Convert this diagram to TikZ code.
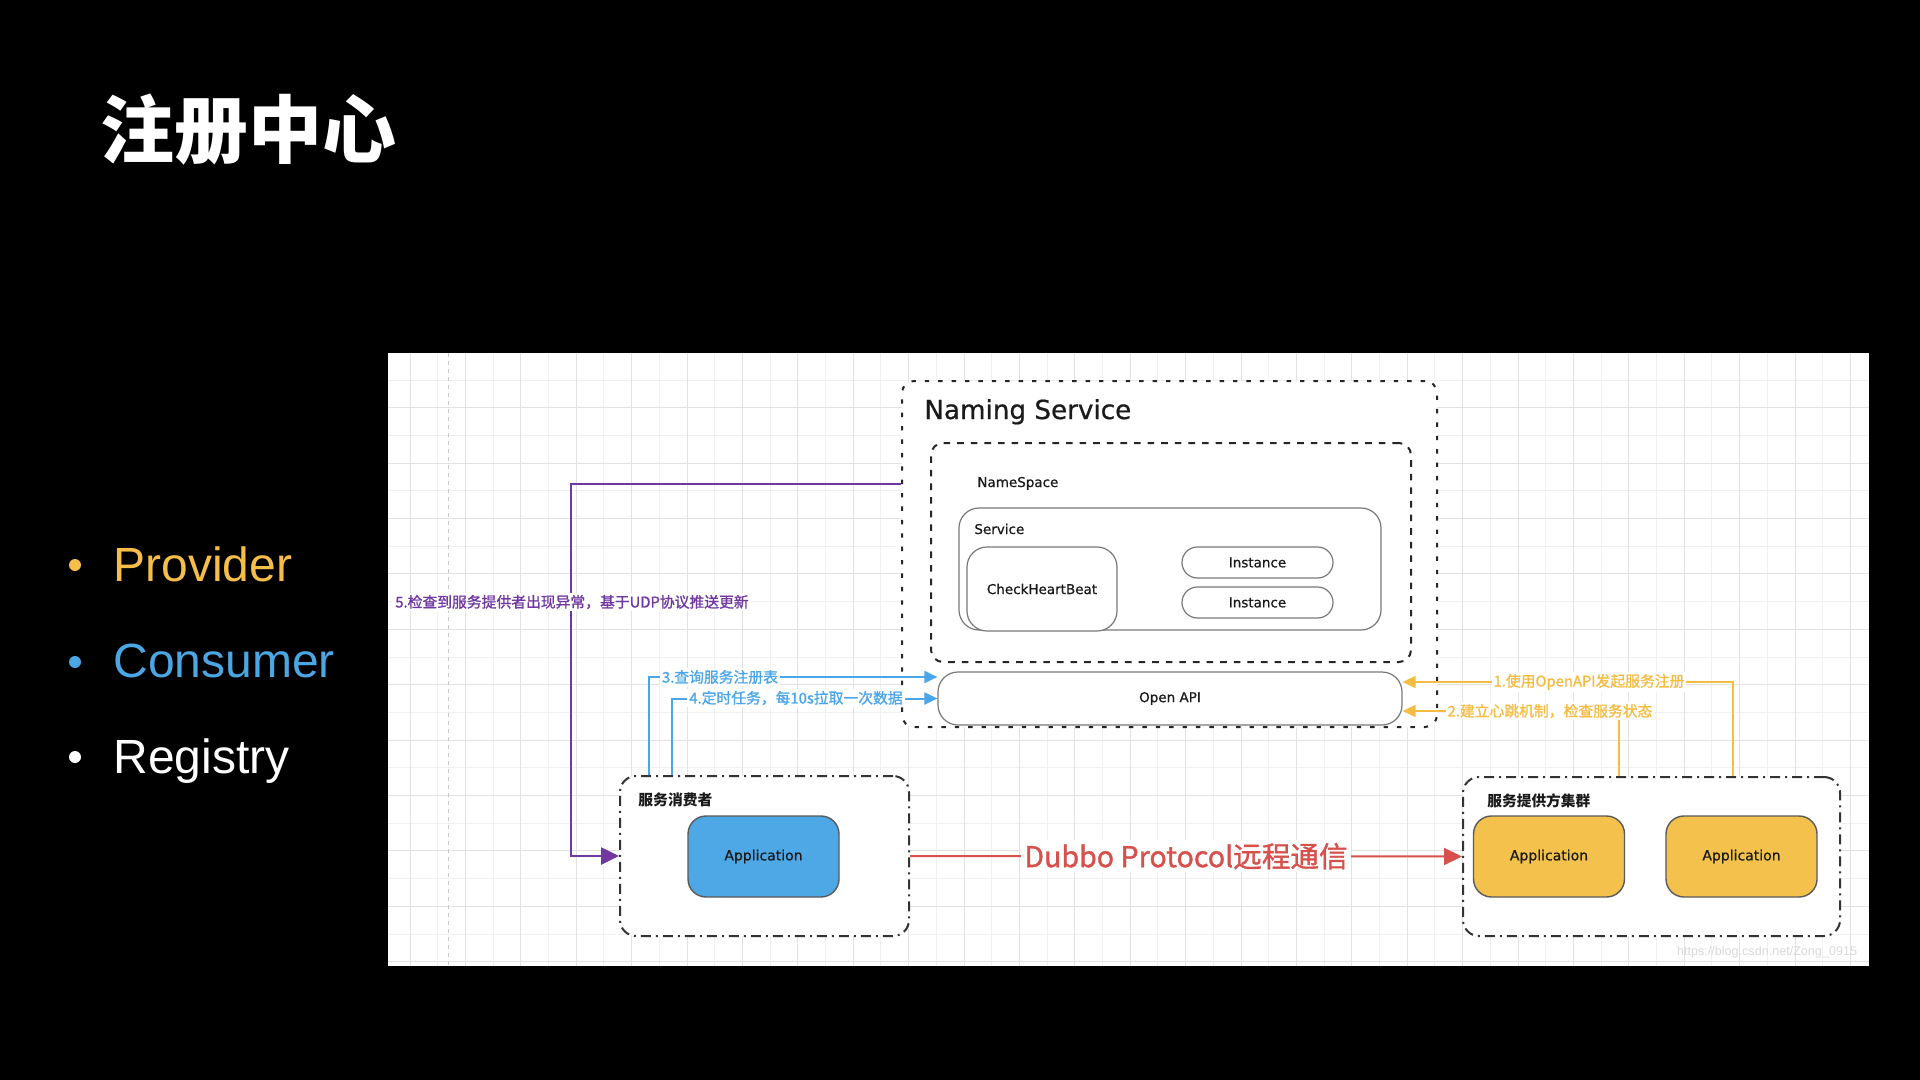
\documentclass[tikz,border=0pt]{standalone}
\usepackage{fontspec}
\setmainfont{DejaVu Sans}
\newfontfamily\cjk{Noto Sans CJK SC}
\newfontfamily\cjkm[FakeBold=1.2]{Noto Sans CJK SC}
\newfontfamily\dvm[FakeBold=0.7]{DejaVu Sans}
\newfontfamily\arialf{Liberation Sans}
\usetikzlibrary{arrows.meta,calc}
\definecolor{provc}{RGB}{244,190,72}
\definecolor{consc}{RGB}{75,166,228}
\definecolor{purp}{RGB}{112,56,160}
\definecolor{bluec}{RGB}{74,166,232}
\definecolor{orc}{RGB}{245,188,66}
\definecolor{redc}{RGB}{214,80,76}
\definecolor{appblue}{RGB}{77,168,229}
\definecolor{appyel}{RGB}{244,193,76}
\definecolor{gridA}{RGB}{226,226,226}
\definecolor{gridB}{RGB}{240,240,240}
\definecolor{boxgray}{RGB}{120,120,120}
\definecolor{appborder}{RGB}{90,90,90}
\definecolor{textdark}{RGB}{26,26,26}
\newcommand{\mylbl}{\dvm\fontsize{6.75}{8}\selectfont}
\newcommand{\myapp}{\dvm\fontsize{7}{8.5}\selectfont}
\newcommand{\mycjk}{\cjkm\fontsize{7.4}{9}\selectfont}
\begin{document}
\begin{tikzpicture}[x=0.5pt,y=-0.5pt,
  grida/.style={draw=gridA, line width=0.5pt},
  gridb/.style={draw=gridB, line width=0.5pt},
  outerbox/.style={draw=black!85, fill=white, line width=1pt, rounded corners=6pt, dash pattern=on 2.2pt off 4.5pt, inner sep=0},
  nsbox/.style={draw=black!85, fill=white, line width=1pt, rounded corners=6pt, dash pattern=on 3.3pt off 3.5pt, inner sep=0},
  softbox/.style={draw=boxgray, fill=white, line width=0.6pt, rounded corners=10pt, inner sep=0, font=\mylbl, text=textdark},
  pillbox/.style={softbox, rounded corners=7.7pt, minimum width=75.5pt, minimum height=15.5pt},
  grpbox/.style={draw=black!80, fill=white, line width=1pt, rounded corners=8pt, dash pattern=on 5pt off 2.5pt on 1pt off 2.5pt, inner sep=0},
  appbox/.style={draw=appborder, line width=0.7pt, rounded corners=9pt, minimum width=75.5pt, minimum height=40.5pt, inner sep=0, font=\myapp, text=textdark},
  plain/.style={inner sep=0, text=textdark},
  tagl/.style={inner sep=1pt, fill=white, font=\mycjk},
  bul/.style={anchor=base west, inner sep=0, font=\arialf\fontsize{24}{29}\selectfont},
  arrp/.style={draw=purp, line width=1.3pt, -{Triangle[length=9pt,width=8.5pt]}},
  arrr/.style={draw=redc, line width=1pt, -{Triangle[length=9pt,width=8.5pt]}},
  arrb/.style={draw=bluec, line width=1pt, -{Triangle[length=6.5pt,width=6pt]}},
  arro/.style={draw=orc, line width=0.9pt, -{Triangle[length=6.5pt,width=6pt]}}
]
\useasboundingbox (0,0) rectangle (1920,1080);
\fill[black] (0,0) rectangle (1920,1080);

% title and bullets
\node[anchor=west, inner sep=0, text=white, font=\cjk\bfseries\fontsize{37}{44}\selectfont] (title) at (100,130) {注册中心};
\fill[provc] (75,565) circle (3pt);
\node[bul, text=provc] (bprov) at (113,581) {Provider};
\fill[consc] (75,662) circle (3pt);
\node[bul, text=consc] (bcons) at (113,677) {Consumer};
\fill[white] (75,757) circle (3pt);
\node[bul, text=white] (breg) at (113,773) {Registry};

% panel and grid
\fill[white] (388,353) rectangle (1869,966);
\foreach \k in {1,3,...,51} \draw[gridb] ({410+27.7*\k},353) -- ({410+27.7*\k},966);
\foreach \k in {0,2,...,20} \draw[gridb] (388,{380+27.7*\k}) -- (1869,{380+27.7*\k});
\foreach \k in {0,2,...,52} \draw[grida] ({410+27.7*\k},353) -- ({410+27.7*\k},966);
\foreach \k in {1,3,...,21} \draw[grida] (388,{380+27.7*\k}) -- (1869,{380+27.7*\k});
\draw[draw=black!22, line width=0.5pt, dash pattern=on 2pt off 2pt] (448,353) -- (448,966);

% Naming service
\node[outerbox, minimum width=267.5pt, minimum height=173pt] (outer) at (1169.5,554) {};
\node[anchor=base west, plain, font=\dvm\fontsize{13.1}{16}\selectfont] (nstitle) at (924,419) {Naming Service};
\node[nsbox, minimum width=240pt, minimum height=109.5pt] (ns) at (1171,552.5) {};
\node[anchor=base west, plain, font=\mylbl] (nslbl) at (977,487) {NameSpace};
\node[softbox, minimum width=211pt, minimum height=61pt] (svc) at (1170,569) {};
\node[anchor=base west, plain, font=\mylbl] (svclbl) at (974,534) {Service};
\node[softbox, minimum width=75pt, minimum height=42pt] (chb) at (1042,589) {CheckHeartBeat};
\node[pillbox] (inst1) at (1257.5,562.5) {Instance};
\node[pillbox] (inst2) at (1257.5,602.5) {Instance};
\node[softbox, minimum width=232pt, minimum height=26.5pt] (api) at (1170,698.5) {Open API};

% groups
\node[grpbox, minimum width=144.5pt, minimum height=80pt] (cons) at (764.5,856) {};
\node[anchor=west, plain, font=\cjk\bfseries\fontsize{7.4}{9}\selectfont] (conslbl) at (638,800) {服务消费者};
\node[appbox, fill=appblue] (capp) at (763.5,856.5) {Application};

\node[grpbox, minimum width=188.5pt, minimum height=79.5pt] (prov) at (1651.5,856.5) {};
\node[anchor=west, plain, font=\cjk\bfseries\fontsize{7.35}{9}\selectfont] (provlbl) at (1487,801) {服务提供方集群};
\node[appbox, fill=appyel] (papp1) at (1549,856.5) {Application};
\node[appbox, fill=appyel] (papp2) at (1741.5,856.5) {Application};

% connectors
\draw[arrp] ([yshift=35pt]outer.west) -| ($(cons.west)+(-48,0)$) -- (cons.west);
\node[tagl, text=purp] (l5) at (572,602) {5.检查到服务提供者出现异常，基于UDP协议推送更新};

\draw[arrr] (cons.east) -- node[fill=white, inner sep=1.5pt, text=redc, font=\cjkm\fontsize{14.3}{17}\selectfont] (ldub) {Dubbo Protocol远程通信} (prov.west);

\draw[arrb] ([xshift=-57.75pt]cons.north) |- ([yshift=10.75pt]api.west);
\node[tagl, text=bluec] (l3) at (720,677) {3.查询服务注册表};
\draw[arrb] ([xshift=-46.25pt]cons.north) |- (api.west);
\node[tagl, text=bluec] (l4) at (796,698) {4.定时任务，每10s拉取一次数据};

\draw[arro] ([xshift=40.75pt]prov.north) |- ([yshift=8.25pt]api.east);
\node[tagl, text=orc] (l1) at (1589,682) {1.使用OpenAPI发起服务注册};
\draw[arro] ([xshift=-16.25pt]prov.north) |- ([yshift=-6.25pt]api.east);
\node[tagl, text=orc] (l2) at (1550,711) {2.建立心跳机制，检查服务状态};

% watermark
\node[inner sep=0, text=black!15, font=\arialf\fontsize{6.3}{8}\selectfont] (wm) at (1767,952) {https://blog.csdn.net/Zong\_0915};
\end{tikzpicture}
\end{document}
